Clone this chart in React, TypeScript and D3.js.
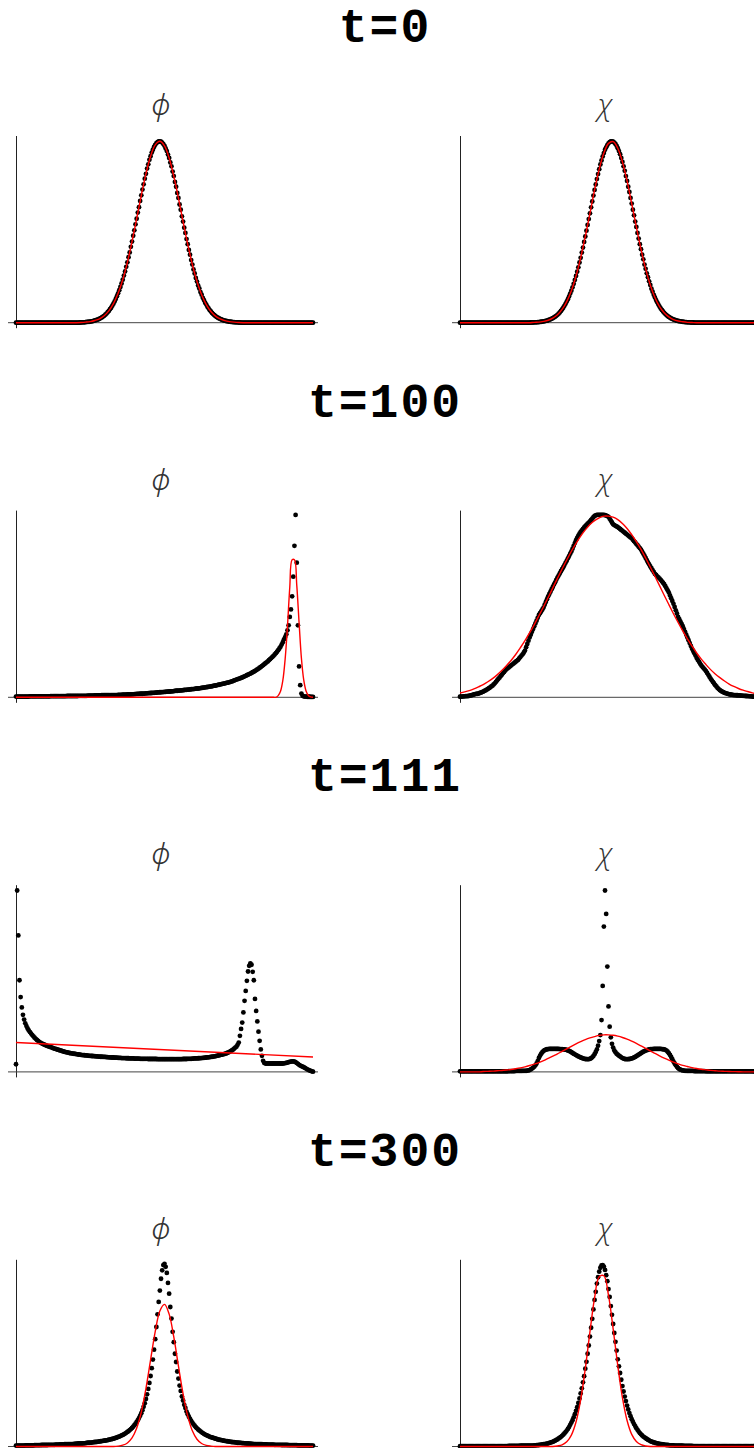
import * as d3 from 'd3';

// snapshot titles and the two field names
const timeLabels = ['t=0', 't=100', 't=111', 't=300'];
const fieldNames = ['\u03D5', '\u03C7'];

// field samples across the box (257 points), fits (65 points unless noted)
const phiDots0 = [
  0, 0, 0, 0, 0, 0, 0, 0, 0, 0,
  0, 0, 0, 0, 0, 0, 0, 0, 0, 0,
  0, 0, 0, 0, 0, 0, 0, 0, 0, 0,
  0, 0, 0, 0, 0, 0, 0, 0, 0, 0,
  0, 0, 0, 0, 0, 0, 0, 0, 0, 0,
  0, 0, 0, 0, 0, 0.001, 0.001, 0.002, 0.002, 0.002,
  0.003, 0.004, 0.004, 0.005, 0.006, 0.007, 0.008, 0.01, 0.012, 0.014,
  0.016, 0.018, 0.021, 0.025, 0.028, 0.033, 0.037, 0.043, 0.049, 0.056,
  0.063, 0.072, 0.08, 0.091, 0.102, 0.114, 0.127, 0.142, 0.157, 0.174,
  0.191, 0.21, 0.23, 0.252, 0.274, 0.299, 0.323, 0.35, 0.376, 0.406,
  0.434, 0.465, 0.494, 0.526, 0.556, 0.589, 0.618, 0.651, 0.681, 0.712,
  0.74, 0.77, 0.796, 0.824, 0.847, 0.871, 0.89, 0.91, 0.925, 0.94,
  0.951, 0.96, 0.966, 0.969, 0.97, 0.968, 0.963, 0.955, 0.946, 0.932,
  0.918, 0.899, 0.881, 0.857, 0.836, 0.808, 0.784, 0.753, 0.727, 0.694,
  0.667, 0.632, 0.604, 0.569, 0.541, 0.508, 0.48, 0.447, 0.42, 0.389,
  0.364, 0.335, 0.311, 0.285, 0.263, 0.239, 0.22, 0.199, 0.183, 0.164,
  0.15, 0.133, 0.121, 0.107, 0.097, 0.085, 0.077, 0.067, 0.06, 0.052,
  0.046, 0.04, 0.035, 0.03, 0.027, 0.023, 0.02, 0.017, 0.015, 0.012,
  0.011, 0.009, 0.008, 0.006, 0.006, 0.005, 0.004, 0.003, 0.003, 0.002,
  0.002, 0.002, 0.001, 0.001, 0, 0, 0, 0, 0, 0,
  0, 0, 0, 0, 0, 0, 0, 0, 0, 0,
  0, 0, 0, 0, 0, 0, 0, 0, 0, 0,
  0, 0, 0, 0, 0, 0, 0, 0, 0, 0,
  0, 0, 0, 0, 0, 0, 0, 0, 0, 0,
  0, 0, 0, 0, 0, 0, 0, 0, 0, 0,
  0, 0, 0, 0, 0, 0, 0,
];
const phiFit0 = [
  0, 0, 0, 0, 0, 0, 0, 0, 0, 0,
  0, 0, 0, 0, 0.001, 0.003, 0.006, 0.012, 0.021, 0.037,
  0.063, 0.102, 0.157, 0.23, 0.323, 0.434, 0.556, 0.681, 0.796, 0.89,
  0.951, 0.97, 0.946, 0.881, 0.784, 0.667, 0.541, 0.42, 0.311, 0.22,
  0.15, 0.097, 0.06, 0.035, 0.02, 0.011, 0.006, 0.003, 0.001, 0,
  0, 0, 0, 0, 0, 0, 0, 0, 0, 0,
  0, 0, 0, 0, 0,
];
const chiDots0 = [
  0, 0, 0, 0, 0, 0, 0, 0, 0, 0,
  0, 0, 0, 0, 0, 0, 0, 0, 0, 0,
  0, 0, 0, 0, 0, 0, 0, 0, 0, 0,
  0, 0, 0, 0, 0, 0, 0, 0, 0, 0,
  0, 0, 0, 0, 0, 0, 0, 0, 0, 0,
  0, 0, 0, 0, 0, 0, 0, 0, 0, 0,
  0, 0.001, 0.001, 0.001, 0.002, 0.002, 0.002, 0.003, 0.003, 0.004,
  0.005, 0.006, 0.007, 0.008, 0.01, 0.011, 0.013, 0.016, 0.018, 0.021,
  0.024, 0.028, 0.032, 0.037, 0.042, 0.048, 0.055, 0.063, 0.071, 0.08,
  0.09, 0.101, 0.113, 0.126, 0.14, 0.156, 0.171, 0.189, 0.208, 0.229,
  0.25, 0.273, 0.296, 0.322, 0.347, 0.375, 0.402, 0.432, 0.461, 0.492,
  0.523, 0.554, 0.585, 0.617, 0.648, 0.68, 0.71, 0.739, 0.768, 0.795,
  0.821, 0.846, 0.868, 0.889, 0.907, 0.925, 0.938, 0.95, 0.959, 0.966,
  0.969, 0.97, 0.968, 0.963, 0.956, 0.946, 0.933, 0.918, 0.901, 0.881,
  0.86, 0.836, 0.812, 0.784, 0.758, 0.727, 0.699, 0.667, 0.637, 0.604,
  0.574, 0.541, 0.512, 0.48, 0.45, 0.42, 0.393, 0.364, 0.339, 0.311,
  0.288, 0.264, 0.243, 0.221, 0.202, 0.182, 0.166, 0.149, 0.135, 0.121,
  0.109, 0.097, 0.086, 0.076, 0.068, 0.06, 0.053, 0.046, 0.041, 0.035,
  0.031, 0.027, 0.023, 0.02, 0.017, 0.015, 0.013, 0.011, 0.009, 0.008,
  0.007, 0.006, 0.005, 0.004, 0.003, 0.003, 0.002, 0.002, 0.002, 0.001,
  0.001, 0.001, 0, 0, 0, 0, 0, 0, 0, 0,
  0, 0, 0, 0, 0, 0, 0, 0, 0, 0,
  0, 0, 0, 0, 0, 0, 0, 0, 0, 0,
  0, 0, 0, 0, 0, 0, 0, 0, 0, 0,
  0, 0, 0, 0, 0, 0, 0, 0, 0, 0,
  0, 0, 0, 0, 0, 0, 0,
];
const chiFit0 = [
  0, 0, 0, 0, 0, 0, 0, 0, 0, 0,
  0, 0, 0, 0, 0, 0, 0.002, 0.003, 0.007, 0.013,
  0.024, 0.042, 0.071, 0.113, 0.171, 0.25, 0.347, 0.461, 0.585, 0.71,
  0.821, 0.907, 0.959, 0.968, 0.933, 0.86, 0.758, 0.637, 0.512, 0.393,
  0.288, 0.202, 0.135, 0.086, 0.053, 0.031, 0.017, 0.009, 0.005, 0.002,
  0.001, 0, 0, 0, 0, 0, 0, 0, 0, 0,
  0, 0, 0, 0, 0,
];

const phiDots100 = [
  0.004, 0.004, 0.004, 0.004, 0.004, 0.004, 0.004, 0.004, 0.004, 0.004,
  0.004, 0.004, 0.005, 0.005, 0.005, 0.005, 0.005, 0.005, 0.005, 0.005,
  0.005, 0.005, 0.005, 0.005, 0.005, 0.005, 0.005, 0.005, 0.005, 0.005,
  0.006, 0.006, 0.006, 0.006, 0.006, 0.006, 0.006, 0.006, 0.006, 0.006,
  0.006, 0.006, 0.006, 0.006, 0.007, 0.007, 0.007, 0.007, 0.007, 0.007,
  0.007, 0.007, 0.007, 0.007, 0.008, 0.008, 0.008, 0.008, 0.008, 0.008,
  0.008, 0.008, 0.009, 0.009, 0.009, 0.009, 0.009, 0.009, 0.01, 0.01,
  0.01, 0.01, 0.01, 0.01, 0.011, 0.011, 0.011, 0.011, 0.011, 0.011,
  0.011, 0.011, 0.011, 0.011, 0.012, 0.012, 0.012, 0.012, 0.013, 0.013,
  0.013, 0.013, 0.014, 0.014, 0.014, 0.014, 0.015, 0.015, 0.015, 0.015,
  0.016, 0.016, 0.017, 0.017, 0.018, 0.018, 0.018, 0.019, 0.019, 0.019,
  0.02, 0.02, 0.021, 0.021, 0.022, 0.022, 0.023, 0.023, 0.024, 0.024,
  0.025, 0.025, 0.026, 0.026, 0.027, 0.027, 0.028, 0.028, 0.029, 0.029,
  0.03, 0.03, 0.031, 0.031, 0.032, 0.032, 0.033, 0.034, 0.035, 0.035,
  0.036, 0.036, 0.037, 0.037, 0.038, 0.039, 0.04, 0.04, 0.041, 0.041,
  0.042, 0.043, 0.044, 0.044, 0.045, 0.046, 0.047, 0.047, 0.048, 0.049,
  0.05, 0.051, 0.052, 0.053, 0.054, 0.055, 0.056, 0.057, 0.058, 0.059,
  0.061, 0.062, 0.063, 0.064, 0.066, 0.067, 0.069, 0.07, 0.072, 0.073,
  0.075, 0.076, 0.078, 0.079, 0.081, 0.083, 0.085, 0.087, 0.09, 0.092,
  0.095, 0.097, 0.099, 0.101, 0.104, 0.106, 0.109, 0.112, 0.115, 0.118,
  0.121, 0.124, 0.127, 0.13, 0.134, 0.137, 0.141, 0.145, 0.149, 0.153,
  0.158, 0.162, 0.167, 0.172, 0.177, 0.182, 0.187, 0.192, 0.198, 0.204,
  0.21, 0.216, 0.222, 0.229, 0.236, 0.244, 0.252, 0.261, 0.27, 0.282,
  0.295, 0.31, 0.322, 0.337, 0.358, 0.385, 0.43, 0.47, 0.54, 0.645,
  0.81, 0.975, 0.72, 0.385, 0.165, 0.065, 0.02, 0.008, 0.005, 0.004,
  0.004, 0.003, 0.003, 0.003, 0.002, 0.002, 0.002,
];
// 129 points: the fitted peak is too narrow for 65
const phiFit100 = [
  0, 0, 0, 0, 0, 0, 0, 0, 0, 0,
  0, 0, 0, 0, 0, 0, 0, 0, 0, 0,
  0, 0, 0, 0, 0, 0, 0, 0, 0, 0,
  0, 0, 0, 0, 0, 0, 0, 0, 0, 0,
  0, 0, 0, 0, 0, 0, 0, 0, 0, 0,
  0, 0, 0, 0, 0, 0, 0, 0, 0, 0,
  0, 0, 0, 0, 0, 0, 0, 0, 0, 0,
  0, 0, 0, 0, 0, 0, 0, 0, 0, 0,
  0, 0, 0, 0, 0, 0, 0, 0, 0, 0,
  0, 0, 0, 0, 0, 0, 0, 0, 0, 0,
  0, 0, 0, 0, 0, 0, 0, 0, 0, 0,
  0, 0, 0, 0.009, 0.032, 0.09, 0.205, 0.38, 0.59, 0.735,
  0.735, 0.6, 0.4, 0.21, 0.093, 0.034, 0.01, 0.002, 0,
];
const chiDots100 = [
  0.003, 0.004, 0.004, 0.005, 0.005, 0.006, 0.006, 0.007, 0.008, 0.01,
  0.011, 0.013, 0.015, 0.017, 0.018, 0.019, 0.02, 0.023, 0.025, 0.028,
  0.03, 0.034, 0.037, 0.041, 0.045, 0.049, 0.053, 0.058, 0.062, 0.069,
  0.075, 0.083, 0.09, 0.098, 0.105, 0.113, 0.12, 0.128, 0.135, 0.143,
  0.15, 0.155, 0.16, 0.165, 0.17, 0.175, 0.18, 0.185, 0.19, 0.195,
  0.2, 0.208, 0.215, 0.223, 0.23, 0.24, 0.25, 0.268, 0.285, 0.303,
  0.32, 0.335, 0.35, 0.365, 0.38, 0.395, 0.41, 0.425, 0.44, 0.45,
  0.46, 0.47, 0.48, 0.495, 0.51, 0.525, 0.54, 0.553, 0.565, 0.578,
  0.59, 0.603, 0.615, 0.628, 0.64, 0.651, 0.662, 0.674, 0.685, 0.696,
  0.707, 0.719, 0.73, 0.743, 0.755, 0.768, 0.78, 0.795, 0.81, 0.825,
  0.84, 0.853, 0.865, 0.875, 0.885, 0.893, 0.9, 0.908, 0.915, 0.922,
  0.928, 0.934, 0.94, 0.948, 0.955, 0.963, 0.97, 0.973, 0.975, 0.975,
  0.975, 0.975, 0.975, 0.975, 0.975, 0.974, 0.972, 0.969, 0.965, 0.955,
  0.945, 0.935, 0.925, 0.921, 0.917, 0.914, 0.91, 0.905, 0.9, 0.895,
  0.89, 0.885, 0.88, 0.875, 0.87, 0.865, 0.86, 0.855, 0.85, 0.843,
  0.835, 0.828, 0.82, 0.813, 0.805, 0.798, 0.79, 0.779, 0.768, 0.757,
  0.745, 0.734, 0.722, 0.711, 0.7, 0.69, 0.68, 0.67, 0.66, 0.654,
  0.647, 0.641, 0.635, 0.628, 0.62, 0.613, 0.605, 0.594, 0.583, 0.572,
  0.56, 0.545, 0.53, 0.515, 0.5, 0.483, 0.465, 0.448, 0.43, 0.418,
  0.405, 0.393, 0.38, 0.365, 0.35, 0.335, 0.32, 0.305, 0.29, 0.275,
  0.26, 0.248, 0.235, 0.223, 0.21, 0.2, 0.19, 0.18, 0.17, 0.163,
  0.155, 0.148, 0.14, 0.13, 0.12, 0.11, 0.1, 0.091, 0.082, 0.074,
  0.065, 0.058, 0.05, 0.044, 0.038, 0.034, 0.03, 0.027, 0.024, 0.022,
  0.02, 0.018, 0.016, 0.015, 0.014, 0.013, 0.012, 0.012, 0.011, 0.011,
  0.01, 0.01, 0.009, 0.009, 0.008, 0.008, 0.007, 0.007, 0.006, 0.006,
  0.005, 0.005, 0.004, 0.004, 0.003, 0.003, 0.003,
];
const chiFit100 = [
  0.023, 0.029, 0.036, 0.045, 0.056, 0.068, 0.083, 0.1, 0.12, 0.143,
  0.169, 0.197, 0.229, 0.265, 0.303, 0.345, 0.389, 0.436, 0.484, 0.534,
  0.585, 0.636, 0.686, 0.734, 0.781, 0.823, 0.862, 0.895, 0.924, 0.945,
  0.96, 0.969, 0.969, 0.963, 0.95, 0.929, 0.903, 0.87, 0.833, 0.791,
  0.745, 0.697, 0.647, 0.597, 0.546, 0.496, 0.447, 0.4, 0.355, 0.313,
  0.274, 0.237, 0.204, 0.175, 0.148, 0.125, 0.105, 0.087, 0.071, 0.058,
  0.047, 0.038, 0.031, 0.024, 0.019,
];

const phiDots111 = [
  0.041, 0.97, 0.73, 0.49, 0.4, 0.345, 0.305, 0.28, 0.26, 0.245,
  0.232, 0.222, 0.213, 0.205, 0.197, 0.19, 0.183, 0.177, 0.171, 0.166,
  0.161, 0.157, 0.153, 0.15, 0.147, 0.144, 0.141, 0.139, 0.136, 0.134,
  0.132, 0.13, 0.127, 0.125, 0.123, 0.121, 0.119, 0.117, 0.115, 0.113,
  0.111, 0.109, 0.107, 0.106, 0.104, 0.103, 0.101, 0.1, 0.099, 0.098,
  0.097, 0.096, 0.095, 0.094, 0.093, 0.092, 0.091, 0.09, 0.09, 0.089,
  0.088, 0.088, 0.087, 0.086, 0.086, 0.085, 0.085, 0.084, 0.084, 0.083,
  0.083, 0.082, 0.082, 0.081, 0.081, 0.08, 0.08, 0.08, 0.079, 0.079,
  0.078, 0.078, 0.077, 0.077, 0.077, 0.076, 0.076, 0.076, 0.075, 0.075,
  0.075, 0.074, 0.074, 0.074, 0.074, 0.073, 0.073, 0.073, 0.072, 0.072,
  0.072, 0.072, 0.071, 0.071, 0.071, 0.071, 0.071, 0.07, 0.07, 0.07,
  0.07, 0.07, 0.07, 0.07, 0.069, 0.069, 0.069, 0.069, 0.069, 0.069,
  0.069, 0.069, 0.068, 0.068, 0.068, 0.068, 0.068, 0.068, 0.068, 0.068,
  0.068, 0.068, 0.068, 0.068, 0.068, 0.068, 0.068, 0.068, 0.068, 0.068,
  0.068, 0.068, 0.068, 0.068, 0.069, 0.069, 0.069, 0.069, 0.07, 0.07,
  0.07, 0.07, 0.071, 0.071, 0.072, 0.072, 0.072, 0.073, 0.073, 0.074,
  0.074, 0.075, 0.075, 0.076, 0.077, 0.078, 0.078, 0.079, 0.08, 0.081,
  0.082, 0.083, 0.084, 0.086, 0.087, 0.089, 0.09, 0.092, 0.093, 0.095,
  0.096, 0.099, 0.101, 0.104, 0.107, 0.111, 0.115, 0.119, 0.124, 0.13,
  0.135, 0.145, 0.157, 0.193, 0.23, 0.264, 0.318, 0.38, 0.433, 0.487,
  0.537, 0.567, 0.58, 0.573, 0.535, 0.49, 0.39, 0.326, 0.27, 0.215,
  0.166, 0.12, 0.086, 0.059, 0.048, 0.045, 0.045, 0.045, 0.045, 0.045,
  0.045, 0.045, 0.045, 0.045, 0.045, 0.045, 0.045, 0.045, 0.045, 0.045,
  0.045, 0.046, 0.047, 0.048, 0.05, 0.052, 0.054, 0.055, 0.056, 0.056,
  0.055, 0.052, 0.047, 0.043, 0.038, 0.034, 0.031, 0.028, 0.025, 0.022,
  0.018, 0.014, 0.011, 0.008, 0.005, 0.003, 0.001,
];
// the fit is a straight line: its two end values
const phiFit111 = [0.157, 0.08];
const chiDots111 = [
  0.003, 0.003, 0.003, 0.003, 0.003, 0.003, 0.003, 0.003, 0.003, 0.003,
  0.003, 0.003, 0.003, 0.003, 0.003, 0.003, 0.003, 0.003, 0.003, 0.003,
  0.003, 0.003, 0.003, 0.003, 0.003, 0.003, 0.003, 0.003, 0.003, 0.003,
  0.003, 0.003, 0.003, 0.003, 0.003, 0.003, 0.003, 0.003, 0.003, 0.003,
  0.003, 0.003, 0.004, 0.004, 0.004, 0.004, 0.004, 0.004, 0.005, 0.005,
  0.005, 0.005, 0.005, 0.005, 0.006, 0.006, 0.006, 0.006, 0.007, 0.008,
  0.01, 0.013, 0.018, 0.022, 0.028, 0.035, 0.045, 0.058, 0.075, 0.087,
  0.097, 0.105, 0.112, 0.116, 0.119, 0.121, 0.122, 0.123, 0.123, 0.123,
  0.123, 0.123, 0.123, 0.123, 0.123, 0.123, 0.122, 0.122, 0.121, 0.12,
  0.12, 0.119, 0.117, 0.115, 0.112, 0.109, 0.105, 0.101, 0.097, 0.094,
  0.09, 0.087, 0.083, 0.08, 0.077, 0.075, 0.072, 0.07, 0.069, 0.068,
  0.068, 0.068, 0.07, 0.073, 0.078, 0.085, 0.095, 0.107, 0.12, 0.14,
  0.165, 0.197, 0.277, 0.46, 0.777, 0.97, 0.845, 0.563, 0.35, 0.242,
  0.185, 0.15, 0.13, 0.115, 0.105, 0.097, 0.092, 0.087, 0.083, 0.078,
  0.074, 0.071, 0.069, 0.068, 0.068, 0.068, 0.069, 0.07, 0.072, 0.074,
  0.077, 0.08, 0.084, 0.088, 0.092, 0.096, 0.1, 0.104, 0.108, 0.111,
  0.114, 0.116, 0.118, 0.12, 0.121, 0.122, 0.122, 0.123, 0.123, 0.123,
  0.123, 0.123, 0.123, 0.123, 0.122, 0.121, 0.12, 0.118, 0.114, 0.108,
  0.1, 0.091, 0.08, 0.068, 0.055, 0.045, 0.035, 0.027, 0.02, 0.015,
  0.012, 0.01, 0.008, 0.007, 0.006, 0.006, 0.005, 0.005, 0.005, 0.005,
  0.005, 0.005, 0.004, 0.004, 0.004, 0.004, 0.004, 0.004, 0.004, 0.004,
  0.004, 0.004, 0.003, 0.003, 0.003, 0.003, 0.003, 0.003, 0.003, 0.003,
  0.003, 0.003, 0.003, 0.003, 0.003, 0.003, 0.003, 0.003, 0.003, 0.003,
  0.003, 0.003, 0.003, 0.003, 0.003, 0.003, 0.003, 0.003, 0.003, 0.003,
  0.003, 0.003, 0.003, 0.003, 0.003, 0.003, 0.003, 0.003, 0.003, 0.003,
  0.003, 0.003, 0.003, 0.003, 0.003, 0.003, 0.003,
];
const chiFit111 = [
  0, 0, 0, 0, 0, 0.002, 0.003, 0.004, 0.006, 0.0075,
  0.01, 0.013, 0.017, 0.0215, 0.027, 0.034, 0.042, 0.05, 0.06, 0.072,
  0.084, 0.096, 0.11, 0.123, 0.137, 0.15, 0.162, 0.173, 0.182, 0.189,
  0.195, 0.198, 0.198, 0.196, 0.191, 0.184, 0.175, 0.164, 0.152, 0.139,
  0.126, 0.112, 0.099, 0.086, 0.074, 0.063, 0.052, 0.043, 0.035, 0.029,
  0.023, 0.018, 0.014, 0.011, 0.008, 0.006, 0.004, 0.003, 0.002, 0.0015,
  0.001, 0, 0, 0, 0,
];

const phiDots300 = [
  0.005, 0.005, 0.005, 0.005, 0.005, 0.005, 0.005, 0.005, 0.006, 0.006,
  0.006, 0.006, 0.006, 0.006, 0.006, 0.006, 0.007, 0.007, 0.007, 0.007,
  0.007, 0.007, 0.008, 0.008, 0.008, 0.008, 0.008, 0.008, 0.009, 0.009,
  0.009, 0.009, 0.009, 0.009, 0.01, 0.01, 0.01, 0.01, 0.011, 0.011,
  0.011, 0.011, 0.012, 0.012, 0.012, 0.012, 0.013, 0.013, 0.013, 0.013,
  0.014, 0.014, 0.015, 0.015, 0.016, 0.016, 0.016, 0.016, 0.017, 0.017,
  0.018, 0.019, 0.02, 0.02, 0.021, 0.021, 0.022, 0.023, 0.024, 0.024,
  0.025, 0.026, 0.027, 0.028, 0.029, 0.03, 0.031, 0.032, 0.033, 0.034,
  0.036, 0.037, 0.039, 0.04, 0.042, 0.044, 0.046, 0.048, 0.051, 0.053,
  0.056, 0.059, 0.062, 0.065, 0.069, 0.073, 0.078, 0.082, 0.088, 0.093,
  0.099, 0.106, 0.114, 0.122, 0.131, 0.141, 0.152, 0.164, 0.178, 0.194,
  0.212, 0.231, 0.254, 0.279, 0.308, 0.34, 0.377, 0.419, 0.465, 0.518,
  0.574, 0.639, 0.707, 0.773, 0.834, 0.897, 0.942, 0.97, 0.977, 0.961,
  0.928, 0.875, 0.817, 0.746, 0.684, 0.613, 0.558, 0.496, 0.452, 0.401,
  0.363, 0.326, 0.297, 0.268, 0.246, 0.223, 0.206, 0.187, 0.173, 0.159,
  0.148, 0.137, 0.128, 0.118, 0.111, 0.103, 0.097, 0.091, 0.086, 0.081,
  0.076, 0.072, 0.068, 0.064, 0.061, 0.058, 0.055, 0.052, 0.05, 0.048,
  0.046, 0.044, 0.042, 0.04, 0.038, 0.036, 0.035, 0.034, 0.033, 0.031,
  0.03, 0.029, 0.028, 0.027, 0.026, 0.025, 0.024, 0.023, 0.023, 0.022,
  0.021, 0.02, 0.02, 0.019, 0.019, 0.018, 0.018, 0.017, 0.017, 0.016,
  0.016, 0.015, 0.015, 0.014, 0.014, 0.013, 0.013, 0.013, 0.013, 0.012,
  0.012, 0.012, 0.012, 0.011, 0.011, 0.011, 0.011, 0.01, 0.01, 0.01,
  0.01, 0.01, 0.01, 0.009, 0.009, 0.009, 0.009, 0.009, 0.009, 0.008,
  0.008, 0.008, 0.008, 0.008, 0.008, 0.007, 0.007, 0.007, 0.007, 0.007,
  0.007, 0.007, 0.007, 0.006, 0.006, 0.006, 0.006, 0.006, 0.006, 0.006,
  0.006, 0.006, 0.006, 0.005, 0.005, 0.005, 0.005,
];
const phiFit300 = [
  0, 0, 0, 0, 0, 0, 0, 0, 0, 0,
  0, 0, 0, 0, 0, 0, 0, 0, 0, 0,
  0, 0, 0.002, 0.007, 0.019, 0.046, 0.098, 0.184, 0.31, 0.463,
  0.614, 0.725, 0.76, 0.708, 0.586, 0.431, 0.282, 0.164, 0.084, 0.039,
  0.016, 0.006, 0.002, 0, 0, 0, 0, 0, 0, 0,
  0, 0, 0, 0, 0, 0, 0, 0, 0, 0,
  0, 0, 0, 0, 0,
];
const chiDots300 = [
  0.002, 0.002, 0.002, 0.002, 0.002, 0.002, 0.002, 0.002, 0.002, 0.002,
  0.002, 0.002, 0.002, 0.002, 0.002, 0.002, 0.002, 0.002, 0.002, 0.002,
  0.002, 0.002, 0.002, 0.002, 0.002, 0.002, 0.002, 0.002, 0.002, 0.002,
  0.002, 0.002, 0.002, 0.002, 0.002, 0.002, 0.002, 0.002, 0.002, 0.002,
  0.002, 0.002, 0.003, 0.003, 0.003, 0.003, 0.003, 0.003, 0.003, 0.003,
  0.003, 0.003, 0.004, 0.004, 0.004, 0.004, 0.004, 0.004, 0.004, 0.004,
  0.005, 0.005, 0.005, 0.005, 0.006, 0.006, 0.007, 0.007, 0.008, 0.009,
  0.01, 0.011, 0.012, 0.013, 0.014, 0.015, 0.017, 0.019, 0.021, 0.023,
  0.025, 0.028, 0.031, 0.035, 0.038, 0.043, 0.047, 0.052, 0.057, 0.063,
  0.07, 0.077, 0.085, 0.094, 0.104, 0.116, 0.128, 0.141, 0.156, 0.173,
  0.191, 0.21, 0.233, 0.257, 0.284, 0.311, 0.343, 0.376, 0.416, 0.453,
  0.496, 0.54, 0.588, 0.635, 0.683, 0.733, 0.784, 0.827, 0.871, 0.905,
  0.935, 0.956, 0.968, 0.97, 0.962, 0.944, 0.916, 0.884, 0.842, 0.8,
  0.751, 0.704, 0.655, 0.607, 0.56, 0.513, 0.466, 0.429, 0.393, 0.357,
  0.323, 0.294, 0.267, 0.243, 0.219, 0.198, 0.179, 0.162, 0.146, 0.133,
  0.12, 0.109, 0.098, 0.089, 0.08, 0.072, 0.065, 0.059, 0.053, 0.049,
  0.044, 0.04, 0.036, 0.033, 0.029, 0.026, 0.024, 0.022, 0.02, 0.018,
  0.017, 0.015, 0.014, 0.013, 0.012, 0.011, 0.01, 0.009, 0.008, 0.008,
  0.007, 0.006, 0.006, 0.006, 0.006, 0.005, 0.005, 0.005, 0.005, 0.004,
  0.004, 0.004, 0.004, 0.003, 0.003, 0.003, 0.003, 0.003, 0.003, 0.003,
  0.003, 0.002, 0.002, 0.002, 0.002, 0.002, 0.002, 0.002, 0.002, 0.002,
  0.002, 0.002, 0.002, 0.002, 0.002, 0.002, 0.002, 0.002, 0.002, 0.002,
  0.002, 0.002, 0.002, 0.002, 0.002, 0.002, 0.002, 0.002, 0.002, 0.002,
  0.002, 0.002, 0.002, 0.002, 0.002, 0.002, 0.002, 0.002, 0.002, 0.002,
  0.002, 0.002, 0.002, 0.002, 0.002, 0.002, 0.002, 0.002, 0.002, 0.002,
  0.002, 0.002, 0.002, 0.002, 0.002, 0.002, 0.002,
];
const chiFit300 = [
  0, 0, 0, 0, 0, 0, 0, 0, 0, 0,
  0, 0, 0, 0, 0, 0, 0, 0, 0, 0,
  0, 0.003, 0.009, 0.025, 0.061, 0.131, 0.249, 0.417, 0.613, 0.795,
  0.908, 0.913, 0.808, 0.629, 0.432, 0.261, 0.139, 0.065, 0.027, 0.01,
  0.003, 0, 0, 0, 0, 0, 0, 0, 0, 0,
  0, 0, 0, 0, 0, 0, 0, 0, 0, 0,
  0, 0, 0, 0, 0,
];

const rows = [
  [[phiDots0, phiFit0], [chiDots0, chiFit0]],
  [[phiDots100, phiFit100], [chiDots100, chiFit100]],
  [[phiDots111, phiFit111], [chiDots111, chiFit111]],
  [[phiDots300, phiFit300], [chiDots300, chiFit300]],
];

const width = 754;
const height = 1448;
const rowStep = 374.6;
const firstTop = 136;
const boxH = 186.7;
const boxW = 297;
const lefts = [16, 460];

function Panel({ dots, fit, left, top, name }) {
  const bottom = top + boxH;
  const x = d3.scaleLinear().domain([0, 1]).range([left, left + boxW]);
  const y = d3.scaleLinear().domain([0, 1]).range([bottom, bottom - 187]);
  const line = d3.line<number>()
    .x((_, i) => x(i / (fit.length - 1)))
    .y(v => y(v))
    .curve(d3.curveCatmullRom.alpha(0.5));

  return (
    <g>
      <text x={left + 145} y={top - 21} textAnchor="middle"
        fontFamily="'Open Sans', 'Noto Sans', sans-serif" fontStyle="italic"
        fontWeight={300} fontSize={30} fill="#333">{name}</text>
      <line x1={left + 0.5} x2={left + 0.5} y1={top} y2={bottom + 5.5} stroke="#222" strokeWidth={1} />
      <line x1={left - 8} x2={left + 302} y1={bottom} y2={bottom} stroke="#444" strokeWidth={1} />
      {dots.map((v, i) => (
        <circle key={i} cx={x(i / (dots.length - 1))} cy={y(v)} r={2.4} fill="#000" />
      ))}
      <path d={line(fit) ?? ''} fill="none" stroke="#ff0000" strokeWidth={1.4} />
    </g>
  );
}

export default function App() {
  return (
    <div style={{ position: 'absolute', left: 0, top: 0 }}>
      <svg width={width} height={height} style={{ display: 'block', background: '#fff' }}>
        {rows.map((row, r) => {
          const top = firstTop + r * rowStep;
          return (
            <g key={r}>
              <text x={385} y={top - 94} textAnchor="middle"
                fontFamily="'Liberation Mono', 'DejaVu Sans Mono', monospace"
                fontWeight="bold" fontSize={48} letterSpacing={2} fill="#000">
                {timeLabels[r]}
              </text>
              {row.map(([dots, fit], c) => (
                <Panel key={c} dots={dots} fit={fit} left={lefts[c]} top={top} name={fieldNames[c]} />
              ))}
            </g>
          );
        })}
      </svg>
    </div>
  );
}
